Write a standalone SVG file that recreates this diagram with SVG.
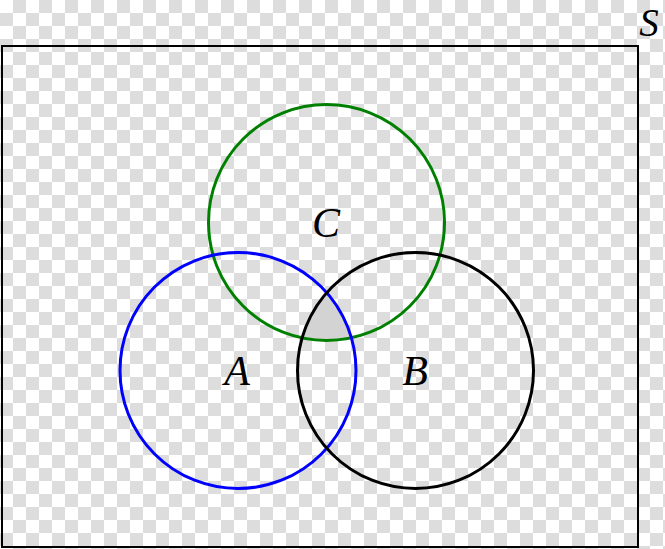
<svg xmlns="http://www.w3.org/2000/svg" width="665" height="549" viewBox="0 0 665 549">
<style>
.ring{fill:none;stroke-width:3}
.lbl{font-family:"Liberation Serif","DejaVu Serif",serif;font-style:italic;font-size:42px;fill:#000;text-anchor:middle}
</style>
<defs>
<pattern id="chk" patternUnits="userSpaceOnUse" width="26" height="26">
<rect width="26" height="26" fill="#ffffff"/>
<rect x="13" y="0" width="13" height="13" fill="#dddddd"/>
<rect x="0" y="13" width="13" height="13" fill="#dddddd"/>
</pattern>
<clipPath id="clipA"><circle cx="238" cy="370.5" r="118"/></clipPath>
<clipPath id="clipB"><circle cx="415.5" cy="370.5" r="118"/></clipPath>
</defs>
<rect width="665" height="549" fill="url(#chk)"/>
<g id="universe">
<rect x="2" y="46" width="636" height="501" fill="none" stroke="#000" stroke-width="2"/>
<text class="lbl" x="649" y="36" style="font-size:39px">S</text>
</g>
<g id="intersection">
<g clip-path="url(#clipA)"><g clip-path="url(#clipB)">
<circle cx="326.5" cy="222.5" r="118" fill="#d3d3d3"/>
</g></g>
</g>
<g id="setC">
<circle class="ring" cx="326.5" cy="222.5" r="118" stroke="#008000"/>
<text class="lbl" x="326" y="237">C</text>
</g>
<g id="setA">
<circle class="ring" cx="238" cy="370.5" r="118" stroke="#0000ff"/>
<text class="lbl" x="237" y="385">A</text>
</g>
<g id="setB">
<circle class="ring" cx="415.5" cy="370.5" r="118" stroke="#000"/>
<text class="lbl" x="415" y="385">B</text>
</g>
<g id="connectors"/>
</svg>
